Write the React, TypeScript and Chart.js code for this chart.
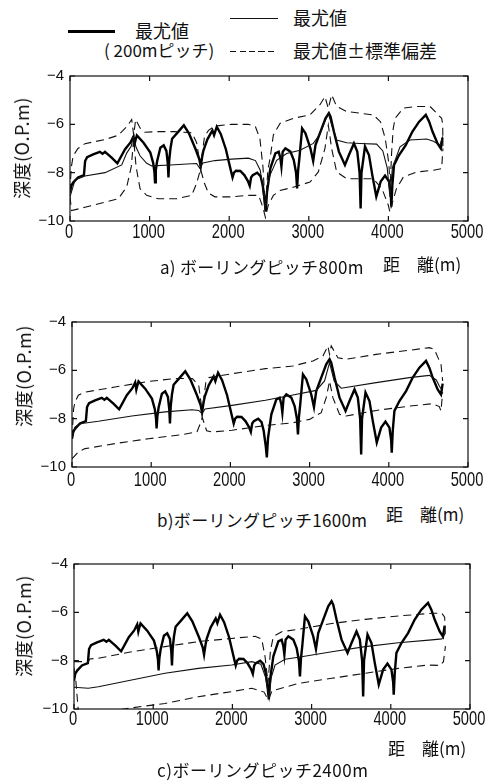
import React, { useEffect, useRef } from "react";
import { Chart, registerables } from "chart.js";
Chart.register(...registerables);

// ---------- data ----------
const X_TICKS = [0, 1000, 2000, 3000, 4000, 5000];
const Y_TICKS = [-4, -6, -8, -10];

// maximum-likelihood estimate at 200 m pitch (same in all panels) [distance m, depth O.P.m]
const EST_200M: number[][] = [
  [0, -8.83], [15, -8.55], [40, -8.41], [100, -8.2], [175, -8.1], [190, -7.52], [215, -7.36], [291, -7.24],
  [375, -7.14], [409, -7.22], [439, -7.14], [523, -7.38], [595, -7.61], [692, -7.03], [760, -6.75], [798, -6.5],
  [812, -6.8], [826, -6.62], [840, -6.46], [924, -6.76], [1009, -7.17], [1045, -7.6], [1060, -7.95], [1068, -8.4],
  [1078, -7.9], [1093, -7.55], [1135, -6.97], [1177, -6.87], [1211, -7.1], [1228, -7.6], [1237, -8.2], [1246, -7.5],
  [1262, -7.0], [1283, -6.6], [1367, -6.28], [1430, -6.04], [1494, -6.37], [1578, -7.03], [1625, -7.45], [1642, -7.75],
  [1660, -7.35], [1675, -7.1], [1726, -6.62], [1789, -6.25], [1810, -6.45], [1844, -6.1], [1895, -6.41], [1958, -7.03],
  [2020, -7.9], [2042, -8.2], [2060, -8.0], [2085, -7.92], [2140, -7.93], [2190, -8.1], [2235, -8.35], [2258, -8.55],
  [2275, -8.2], [2296, -8.1], [2351, -8.0], [2393, -8.14], [2420, -8.5], [2445, -9.1], [2460, -9.6], [2475, -8.8],
  [2517, -7.82], [2580, -7.2], [2622, -7.13], [2643, -7.4], [2656, -7.75], [2672, -7.13], [2706, -6.99], [2769, -7.13],
  [2811, -7.48], [2840, -8.0], [2853, -8.65], [2866, -7.9], [2882, -7.4], [2916, -6.17], [2958, -6.37], [3021, -7.0],
  [3055, -7.52], [3084, -6.86], [3147, -6.3], [3210, -5.75], [3252, -5.54], [3273, -5.68], [3315, -6.3], [3378, -7.13],
  [3454, -7.68], [3504, -7.27], [3567, -6.79], [3609, -7.13], [3638, -8.0], [3651, -9.48], [3662, -8.0], [3706, -6.92],
  [3756, -7.27], [3798, -8.1], [3848, -8.99], [3903, -8.37], [3958, -8.12], [4008, -8.37], [4030, -8.9], [4037, -9.41],
  [4050, -8.5], [4071, -7.68], [4134, -7.27], [4218, -6.86], [4302, -6.3], [4386, -5.89], [4470, -5.61], [4512, -5.89],
  [4554, -6.3], [4617, -6.79], [4659, -7.0], [4680, -6.55],
];

// a) boring pitch 800 m
const A_EST: number[][] = [
  [0, -9.0], [63, -8.3], [188, -8.14], [440, -8.0], [650, -7.68], [712, -7.19], [770, -6.9], [796, -6.49],
  [830, -6.95], [880, -7.3], [960, -7.6], [1026, -7.72], [1260, -7.68], [1470, -7.64], [1590, -7.62], [1630, -7.82],
  [1670, -7.6], [1820, -7.5], [2030, -7.44], [2240, -7.4], [2330, -7.5], [2390, -7.9], [2420, -8.6], [2450, -9.6],
  [2475, -8.6], [2513, -8.1], [2596, -7.49], [2722, -7.21], [2890, -7.07], [3057, -6.79], [3140, -6.4], [3200, -5.9],
  [3245, -5.54], [3285, -6.0], [3350, -6.65], [3476, -6.76], [3643, -6.79], [3852, -6.82], [3930, -7.1], [3985, -7.8],
  [4020, -9.0], [4050, -7.8], [4146, -6.93], [4271, -6.65], [4481, -6.61], [4565, -6.7], [4648, -6.86], [4682, -6.5],
];
const A_UPPER: number[][] = [
  [0, -8.8], [15, -7.8], [40, -7.3], [100, -7.0], [188, -6.8], [440, -6.63], [608, -6.45], [712, -6.1],
  [775, -5.8], [800, -6.45], [825, -5.8], [880, -6.15], [942, -6.33], [1110, -6.3], [1300, -6.3], [1530, -6.35],
  [1590, -6.75], [1640, -7.75], [1690, -6.5], [1740, -6.25], [1820, -6.07], [2030, -6.0], [2240, -6.0], [2330, -6.1],
  [2386, -6.6], [2425, -7.8], [2455, -9.6], [2485, -7.9], [2513, -7.42], [2555, -6.44], [2638, -5.96], [2805, -5.75],
  [3015, -5.61], [3140, -5.19], [3203, -4.85], [3245, -5.35], [3287, -4.78], [3350, -5.26], [3476, -5.47], [3643, -5.54],
  [3810, -5.61], [3900, -5.89], [3960, -6.58], [4005, -7.6], [4022, -8.6], [4040, -7.2], [4060, -6.2], [4083, -5.75],
  [4188, -5.33], [4356, -5.26], [4523, -5.26], [4606, -5.54], [4669, -5.75], [4682, -6.0], [4685, -6.9],
];
const A_LOWER: number[][] = [
  [0, -9.0], [20, -9.57], [188, -9.43], [440, -9.22], [608, -9.08], [712, -8.59], [770, -7.75], [800, -6.6],
  [830, -7.75], [880, -8.66], [963, -8.94], [1110, -9.08], [1340, -9.08], [1528, -8.94], [1590, -8.45], [1640, -7.85],
  [1690, -8.45], [1740, -8.85], [1820, -9.0], [2030, -9.0], [2240, -8.94], [2370, -8.94], [2420, -9.4], [2455, -9.85],
  [2490, -9.36], [2555, -8.94], [2638, -8.74], [2805, -8.6], [3015, -8.39], [3120, -7.97], [3203, -7.0], [3245, -6.03],
  [3287, -7.0], [3350, -7.97], [3476, -8.25], [3643, -8.25], [3810, -8.25], [3920, -8.67], [4000, -9.36], [4020, -9.64],
  [4040, -9.36], [4100, -8.67], [4188, -8.18], [4356, -7.97], [4565, -7.9], [4669, -7.83], [4685, -7.0],
];

// b) boring pitch 1600 m
const B_EST: number[][] = [
  [0, -8.83], [40, -8.34], [122, -8.2], [333, -8.11], [755, -7.89], [1177, -7.72], [1515, -7.63], [1600, -7.66],
  [1642, -7.79], [1680, -7.6], [2021, -7.45], [2443, -7.24], [2790, -7.02], [3084, -6.83], [3189, -6.44], [3252, -5.68],
  [3310, -6.44], [3399, -6.74], [3840, -6.51], [4260, -6.3], [4512, -6.21], [4600, -6.4], [4638, -6.65], [4680, -6.86],
];
const B_UPPER: number[][] = [
  [0, -8.8], [20, -7.6], [38, -7.31], [80, -7.03], [165, -6.9], [544, -6.69], [966, -6.46], [1304, -6.34],
  [1520, -6.34], [1600, -6.62], [1635, -7.5], [1650, -7.5], [1690, -6.5], [1730, -6.3], [2021, -6.14], [2443, -5.93],
  [2790, -5.82], [3042, -5.61], [3168, -5.41], [3231, -4.99], [3252, -5.34], [3273, -4.99], [3357, -5.48], [3462, -5.54],
  [3840, -5.34], [4260, -5.17], [4512, -5.06], [4575, -5.14], [4659, -5.75], [4680, -6.44],
];
const B_LOWER: number[][] = [
  [0, -9.66], [80, -9.38], [165, -9.24], [544, -9.03], [966, -8.83], [1388, -8.66], [1578, -8.55], [1620, -8.2],
  [1645, -7.95], [1670, -8.2], [1700, -8.5], [1768, -8.55], [2021, -8.48], [2443, -8.28], [2790, -8.17], [3000, -8.03],
  [3147, -7.75], [3210, -7.13], [3252, -6.44], [3294, -7.13], [3378, -7.82], [3462, -7.89], [3840, -7.66], [4260, -7.48],
  [4554, -7.38], [4638, -7.5], [4659, -7.68], [4680, -6.9],
];

// c) boring pitch 2400 m
const C_EST: number[][] = [
  [0, -9.1], [180, -9.14], [307, -9.08], [728, -8.8], [1149, -8.52], [1570, -8.32], [1991, -8.18], [2244, -8.04],
  [2360, -8.15], [2420, -8.7], [2463, -9.56], [2490, -8.7], [2538, -8.18], [2665, -7.94], [2834, -7.86], [3255, -7.63],
  [3676, -7.42], [4096, -7.26], [4517, -7.14], [4644, -7.1], [4686, -6.87],
];
const C_UPPER: number[][] = [
  [0, -8.04], [180, -8.04], [200, -7.93], [307, -7.9], [728, -7.63], [1149, -7.42], [1570, -7.21], [1991, -7.08],
  [2286, -6.99], [2370, -7.1], [2412, -7.83], [2450, -8.94], [2480, -7.6], [2517, -7.0], [2623, -6.8], [2834, -6.7],
  [3255, -6.46], [3676, -6.29], [4096, -6.15], [4517, -6.04], [4644, -6.04], [4680, -6.2], [4690, -7.0],
];
const C_LOWER: number[][] = [
  [0, -8.3], [25, -8.9], [60, -10.3], [686, -9.97], [1149, -9.77], [1570, -9.49], [1991, -9.28], [2244, -9.14],
  [2400, -9.3], [2454, -9.63], [2500, -9.25], [2834, -8.94], [3255, -8.73], [3676, -8.52], [4096, -8.32], [4475, -8.18],
  [4620, -8.2], [4665, -8.04], [4690, -7.4],
];

// ---------- chart helpers ----------
const toPts = (a: number[][]) => a.map(([x, y]) => ({ x, y }));

const framePlugin = {
  id: "frame",
  afterDraw(chart: any, _args: any, opts: any) {
    const { ctx, chartArea, scales } = chart;
    const { left, right, top, bottom } = chartArea;
    const sx = scales.x;
    const sy = scales.y;
    ctx.save();
    ctx.strokeStyle = "#111";
    ctx.lineWidth = 1.2;
    ctx.strokeRect(left, top, right - left, bottom - top);
    const tl = 5;
    ctx.beginPath();
    X_TICKS.forEach((v) => {
      const px = sx.getPixelForValue(v);
      ctx.moveTo(px, bottom);
      ctx.lineTo(px, bottom - tl);
      ctx.moveTo(px, top);
      ctx.lineTo(px, top + tl);
    });
    Y_TICKS.forEach((v) => {
      const py = sy.getPixelForValue(v);
      ctx.moveTo(left, py);
      ctx.lineTo(left + tl, py);
      ctx.moveTo(right, py);
      ctx.lineTo(right - tl, py);
    });
    ctx.stroke();

    ctx.fillStyle = "#111";
    ctx.font = '21px "Liberation Sans", Arial, sans-serif';
    ctx.textAlign = "center";
    ctx.textBaseline = "middle";
    X_TICKS.forEach((v) => {
      const px = sx.getPixelForValue(v);
      ctx.save();
      ctx.translate(px - 1, bottom + (opts.xLabelOffset || 11));
      ctx.scale(0.7, 1);
      ctx.fillText(String(v), 0, 0);
      ctx.restore();
    });
    ctx.font = '15px "Liberation Sans", Arial, sans-serif';
    ctx.textAlign = "right";
    Y_TICKS.forEach((v) => {
      const py = sy.getPixelForValue(v);
      ctx.fillText("\u2212" + Math.abs(v), left - 6, py);
    });
    ctx.restore();
  },
};

type PlotProps = {
  top: number;
  pad: { left: number; right: number; top: number; bottom: number };
  est: number[][];
  upper: number[][];
  lower: number[][];
  xLabelOffset: number;
};

const H = 200;

function Plot({ top, pad, est, upper, lower, xLabelOffset }: PlotProps) {
  const ref = useRef<HTMLCanvasElement>(null);
  useEffect(() => {
    const dash = { borderColor: "#111", borderWidth: 1.1, borderDash: [8, 5], pointRadius: 0, fill: false };
    const chart = new Chart(ref.current as HTMLCanvasElement, {
      type: "line",
      data: {
        datasets: [
          { data: toPts(upper), ...dash } as any,
          { data: toPts(lower), ...dash } as any,
          { data: toPts(est), borderColor: "#111", borderWidth: 1.1, pointRadius: 0, fill: false },
          { data: toPts(EST_200M), borderColor: "#000", borderWidth: 2.4, pointRadius: 0, fill: false },
        ],
      },
      options: {
        responsive: false,
        animation: false,
        devicePixelRatio: 1,
        events: [],
        layout: { padding: pad },
        elements: { line: { tension: 0 }, point: { radius: 0 } },
        plugins: {
          legend: { display: false },
          tooltip: { enabled: false },
          frame: { xLabelOffset },
        } as any,
        scales: {
          x: { type: "linear", min: 0, max: 5000, display: false },
          y: { type: "linear", min: -10, max: -4, display: false },
        },
      },
      plugins: [framePlugin],
    });
    return () => chart.destroy();
  }, []);
  return (
    <canvas
      ref={ref}
      width={495}
      height={H}
      style={{ position: "absolute", left: 0, top, width: 495, height: H }}
    />
  );
}

const JP = '"Noto Sans CJK JP", "Noto Sans", sans-serif';

function Txt({ x, y, size, children, spacing = 0 }: any) {
  return (
    <div
      style={{
        position: "absolute",
        left: x,
        top: y - size / 2,
        fontSize: size,
        lineHeight: `${size}px`,
        whiteSpace: "nowrap",
        fontFamily: JP,
        color: "#111",
        letterSpacing: spacing,
      }}
    >
      {children}
    </div>
  );
}

function YTitle({ cx, cy }: { cx: number; cy: number }) {
  return (
    <div
      style={{
        position: "absolute",
        left: cx,
        top: cy,
        transform: "translate(-50%, -50%) rotate(-90deg)",
        fontSize: 18,
        lineHeight: "18px",
        whiteSpace: "nowrap",
        fontFamily: JP,
        color: "#111",
        letterSpacing: 0.5,
      }}
    >
      深度(O.P.m)
    </div>
  );
}

export default function App() {
  return (
    <div style={{ position: "absolute", left: 0, top: 0, width: 495, height: 783, background: "#fff", overflow: "hidden" }}>
      {/* legend */}
      <div style={{ position: "absolute", left: 68, top: 30, width: 47, height: 3, background: "#000" }} />
      <Txt x={135} y={30} size={18}>最尤値</Txt>
      <Txt x={104} y={49} size={17}>( 200mピッチ)</Txt>
      <div style={{ position: "absolute", left: 230, top: 18, width: 48, height: 1, background: "#111" }} />
      <Txt x={293} y={17} size={18}>最尤値</Txt>
      <div
        style={{
          position: "absolute",
          left: 230,
          top: 51,
          width: 46,
          height: 1,
          background: "repeating-linear-gradient(to right, #111 0 6px, transparent 6px 9.5px)",
        }}
      />
      <Txt x={293} y={50} size={18}>最尤値±標準偏差</Txt>

      {/* panel a */}
      <Plot top={60} pad={{ left: 70, right: 27, top: 16, bottom: 39 }} est={A_EST} upper={A_UPPER} lower={A_LOWER} xLabelOffset={11} />
      <YTitle cx={21} cy={148} />
      <Txt x={383} y={263} size={17}>距　離(m)</Txt>
      <Txt x={160} y={266} size={17} spacing={0.3}>a) ボーリングピッチ800m</Txt>

      {/* panel b */}
      <Plot top={300} pad={{ left: 72, right: 27, top: 22, bottom: 33 }} est={B_EST} upper={B_UPPER} lower={B_LOWER} xLabelOffset={13} />
      <YTitle cx={23} cy={376} />
      <Txt x={386} y={513} size={17}>距　離(m)</Txt>
      <Txt x={157} y={519} size={17} spacing={0.3}>b)ボーリングピッチ1600m</Txt>

      {/* panel c */}
      <Plot top={540} pad={{ left: 74, right: 25, top: 24, bottom: 31 }} est={C_EST} upper={C_UPPER} lower={C_LOWER} xLabelOffset={10} />
      <YTitle cx={23} cy={626} />
      <Txt x={388} y={747} size={17}>距　離(m)</Txt>
      <Txt x={157} y={769} size={17} spacing={0.5}>c)ボーリングピッチ2400m</Txt>
    </div>
  );
}
